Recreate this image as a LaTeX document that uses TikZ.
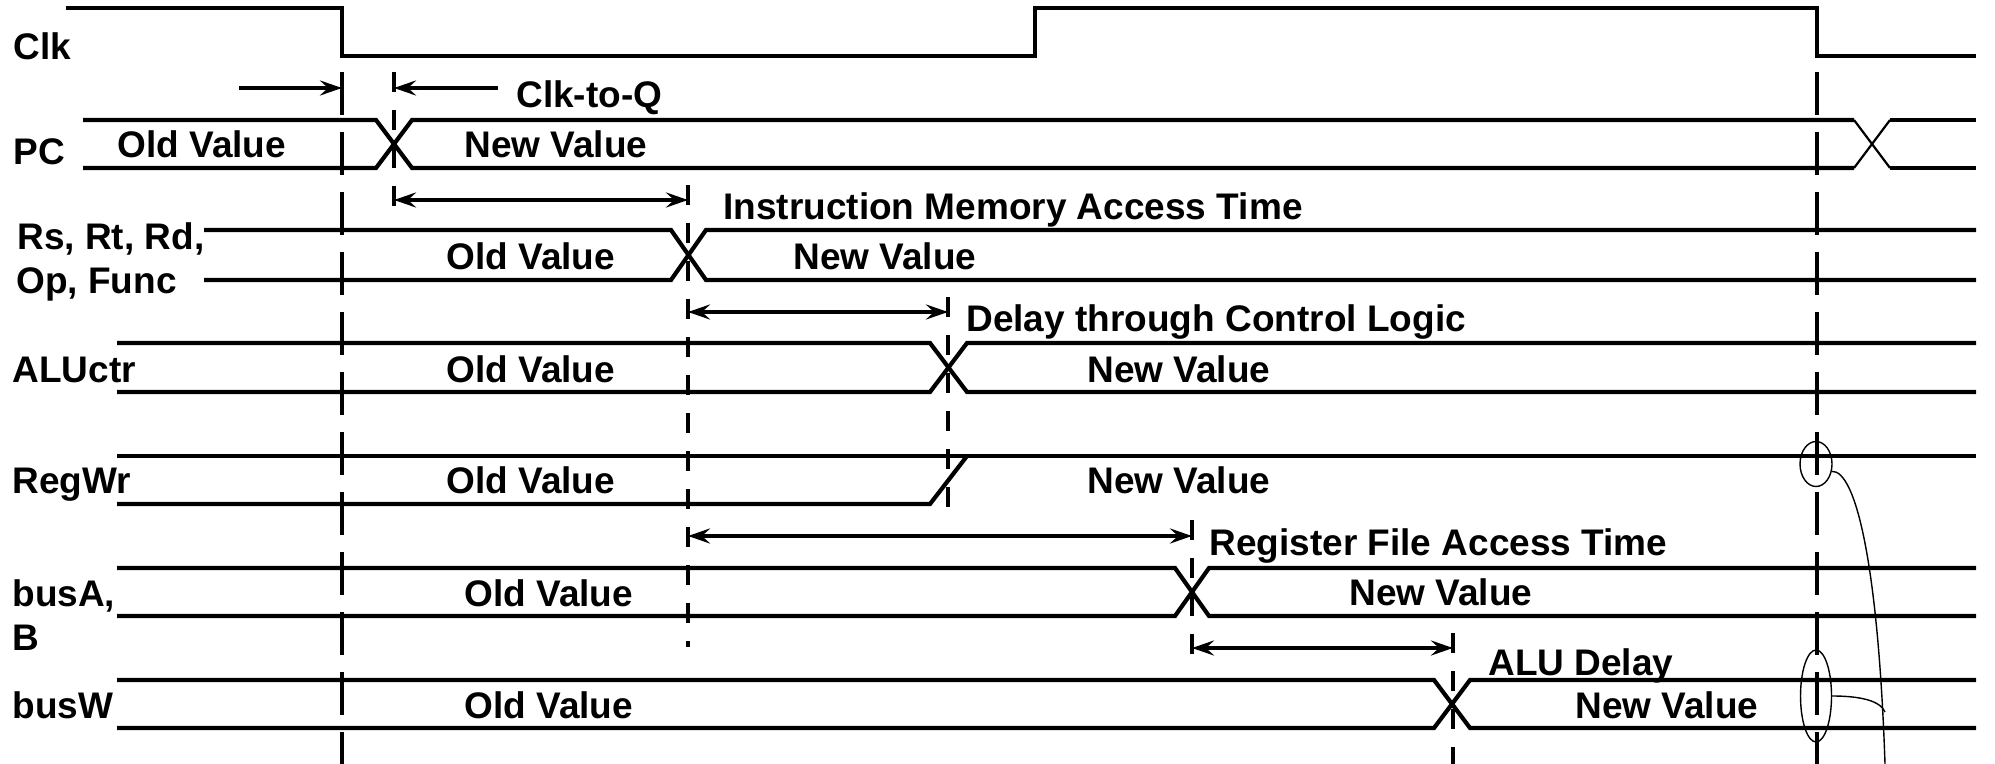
\documentclass[tikz,border=0pt]{standalone}
\usepackage{fontspec}
\setmainfont{Liberation Sans}
\usetikzlibrary{arrows.meta,shapes.geometric}
\begin{document}
\begin{tikzpicture}[x=0.5pt,y=-0.5pt,
  sig/.style={line width=2.1pt, line join=miter},
  thinx/.style={line width=1.1pt},
  longdash/.style={line width=2pt, dash pattern=on 21.5pt off 8.5pt},
  shortdash/.style={line width=2pt, dash pattern=on 10pt off 9pt},
  tipd/.tip={Stealth[length=11pt,width=7.5pt,inset=4pt]},
  dimboth/.style={line width=1.8pt, tipd-tipd},
  dimto/.style={line width=1.8pt, -tipd},
  lbl/.style={font=\bfseries\fontsize{18.5pt}{20pt}\selectfont, inner sep=0pt, anchor=base west},
  hl/.style={line width=0.7pt},
  oval/.style={ellipse, draw, line width=0.7pt, inner sep=0pt}]
\useasboundingbox (0,0) rectangle (1995,764);

% ---------- signals ----------
% Clk
\draw[sig] (66,8) -- (342,8) -- (342,56) -- (1035,56) -- (1035,8) -- (1817,8) -- (1817,56) -- (1976,56);
% PC
\draw[sig] (83,120) -- (376,120) -- (412,168) -- (1854,168);
\draw[sig] (83,168) -- (376,168) -- (412,120) -- (1854,120);
\draw[thinx] (1854,168) -- (1890,120);
\draw[thinx] (1854,120) -- (1890,168);
\draw[sig] (1890,120) -- (1976,120);
\draw[sig] (1890,168) -- (1976,168);
% Rs, Rt, Rd, Op, Func
\draw[sig] (204,230) -- (671,230) -- (706,280) -- (1976,280);
\draw[sig] (204,280) -- (671,280) -- (706,230) -- (1976,230);
% ALUctr
\draw[sig] (117,343) -- (930,343) -- (967,392) -- (1976,392);
\draw[sig] (117,392) -- (930,392) -- (967,343) -- (1976,343);
% RegWr
\draw[sig] (117,456) -- (1976,456);
\draw[sig] (117,504) -- (930,504) -- (967,456);
% busA, B
\draw[sig] (117,568) -- (1175,568) -- (1209,616) -- (1976,616);
\draw[sig] (117,616) -- (1175,616) -- (1209,568) -- (1976,568);
% busW
\draw[sig] (117,680) -- (1434,680) -- (1470,728) -- (1976,728);
\draw[sig] (117,728) -- (1434,728) -- (1470,680) -- (1976,680);

% ---------- dashed time markers ----------
\draw[longdash] (342,72) -- (342,764);
\draw[longdash] (1817,72) -- (1817,764);
\draw[shortdash] (394,72) -- (394,207);
\draw[shortdash] (688,185) -- (688,647);
\draw[shortdash] (948,297) -- (948,510);
\draw[shortdash] (1192,520) -- (1192,655);
\draw[shortdash] (1453,633) -- (1453,764);

% ---------- arrow end points ----------
\coordinate (cqA) at (239,88);
\coordinate (cqB) at (342,88);
\coordinate (cqC) at (498,88);
\coordinate (cqD) at (394,88);
\coordinate (imL) at (394,200);
\coordinate (imR) at (688,200);
\coordinate (dcL) at (688,312);
\coordinate (dcR) at (948,312);
\coordinate (rfL) at (688,536);
\coordinate (rfR) at (1192,536);
\coordinate (adL) at (1192,648);
\coordinate (adR) at (1453,648);

\draw[dimto] (cqA) -- (cqB);
\draw[dimto] (cqC) -- (cqD);
\draw[dimboth] (imL) -- (imR);
\draw[dimboth] (dcL) -- (dcR);
\draw[dimboth] (rfL) -- (rfR);
\draw[dimboth] (adL) -- (adR);

% ---------- labels ----------
\node[lbl] (clk) at (13,60) {Clk};
\node[lbl] (pc) at (13,165) {PC};
\node[lbl] (pcold) at (117,158) {Old Value};
\node[lbl] (pcnew) at (464,158) {New Value};
\node[lbl] (ctq) at (516,108) {Clk-to-Q};
\node[lbl] (rs) at (17,250) {Rs, Rt, Rd,};
\node[lbl] (op) at (16,294) {Op, Func};
\node[lbl] (rsold) at (446,270) {Old Value};
\node[lbl] (rsnew) at (793,270) {New Value};
\node[lbl] (imat) at (723,220) {Instruction Memory Access Time};
\node[lbl] (alu) at (12,382) {ALUctr};
\node[lbl] (aluold) at (446,382) {Old Value};
\node[lbl] (alunew) at (1087,382) {New Value};
\node[lbl] (dcl) at (966,332) {Delay through Control Logic};
\node[lbl] (regwr) at (12,493) {RegWr};
\node[lbl] (rwold) at (446,493) {Old Value};
\node[lbl] (rwnew) at (1087,493) {New Value};
\node[lbl] (rfat) at (1209,555) {Register File Access Time};
\node[lbl] (busa) at (12,606) {busA,};
\node[lbl] (bb) at (12,650) {B};
\node[lbl] (baold) at (464,606) {Old Value};
\node[lbl] (banew) at (1349,605) {New Value};
\node[lbl] (alud) at (1488,675) {ALU Delay};
\node[lbl] (busw) at (12,718) {busW};
\node[lbl] (bwold) at (464,718) {Old Value};
\node[lbl] (bwnew) at (1575,718) {New Value};

% ---------- highlight ovals and leader curves ----------
\node[oval, minimum width=16pt, minimum height=22.5pt] (ov1) at (1816,464) {};
\node[oval, minimum width=15.5pt, minimum height=46pt] (ov2) at (1816,696) {};
\coordinate (cEnd) at (1885,764);
\coordinate (cJoin) at (1885,712);
\draw[hl] (ov1.-25) .. controls (1855,470) and (1878,560) .. (cEnd);
\draw[hl] (ov2.east) .. controls (1858,696) and (1880,700) .. (cJoin);
\end{tikzpicture}
\end{document}
